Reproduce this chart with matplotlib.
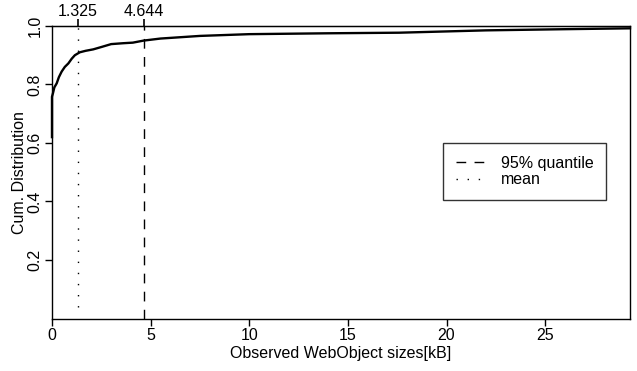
import matplotlib
matplotlib.use("Agg")
import matplotlib.pyplot as plt
import numpy as np

plt.rcParams['font.family'] = ['Liberation Sans', 'DejaVu Sans']
plt.rcParams['font.size'] = 11.5

# empirical CDF of observed object sizes (kB)
sizes = [0.0, 0.0, 0.05, 0.12, 0.24, 0.35, 0.49, 0.65, 0.83, 1.0, 1.16, 1.41,
         1.7, 2.09, 2.5, 3.0, 3.6, 4.1, 4.644, 5.5, 7.5, 10.0, 14.0, 17.6, 22.0, 26.0, 29.3]
cum_prob = [0.62, 0.758, 0.77, 0.79, 0.804, 0.825, 0.844, 0.86, 0.872, 0.888, 0.90, 0.91,
            0.915, 0.920, 0.928, 0.938, 0.941, 0.943, 0.95, 0.957, 0.966, 0.972, 0.975, 0.977,
            0.985, 0.989, 0.992]

mean_size = 1.325
q95_size = 4.644

xticks = [0, 5, 10, 15, 20, 25]
yticks = [0.2, 0.4, 0.6, 0.8, 1.0]

fig = plt.figure(figsize=(6.37, 3.71), dpi=100)
ax = fig.add_axes([0.0816, 0.1415, 0.989 - 0.0816, 0.93 - 0.1415])

ax.plot(sizes, cum_prob, color='black', lw=1.7, solid_joinstyle='round',
        zorder=5, clip_on=False)
ax.axvline(q95_size, color='black', lw=1.0, ls=(0, (7, 6)), label='95% quantile')
ax.plot([mean_size, mean_size], [0.04, 1.0], color='black', lw=1.0,
        ls=(0, (1, 7)), label='mean')

ax.set_xlim(0, 29.3)
ax.set_ylim(0, 1.0)
ax.set_xticks(xticks)
ax.set_xticklabels([str(t) for t in xticks])
ax.set_yticks(yticks)
ax.set_yticklabels(['0.2', '0.4', '0.6', '0.8', '1.0'], rotation=90, va='center')
ax.tick_params(direction='out', length=5, width=1, pad=2)

for s in ax.spines.values():
    s.set_linewidth(1.0)

# top axis marking mean and 95% quantile
top = ax.secondary_xaxis('top')
top.set_xticks([mean_size, q95_size])
top.set_xticklabels(['1.325', '4.644'])
top.tick_params(direction='out', length=5, width=1.2, pad=0)

ax.set_xlabel('Observed WebObject sizes[kB]', labelpad=2)
ax.set_ylabel('Cum. Distribution', labelpad=0)

leg = ax.legend(loc='center', bbox_to_anchor=(0.818, 0.503), frameon=True,
                fancybox=False, edgecolor='black', handlelength=2.0, borderpad=0.8,
                labelspacing=0.1, handletextpad=0.8)
leg.get_frame().set_linewidth(1.0)

fig.savefig('out.png', dpi=100)
